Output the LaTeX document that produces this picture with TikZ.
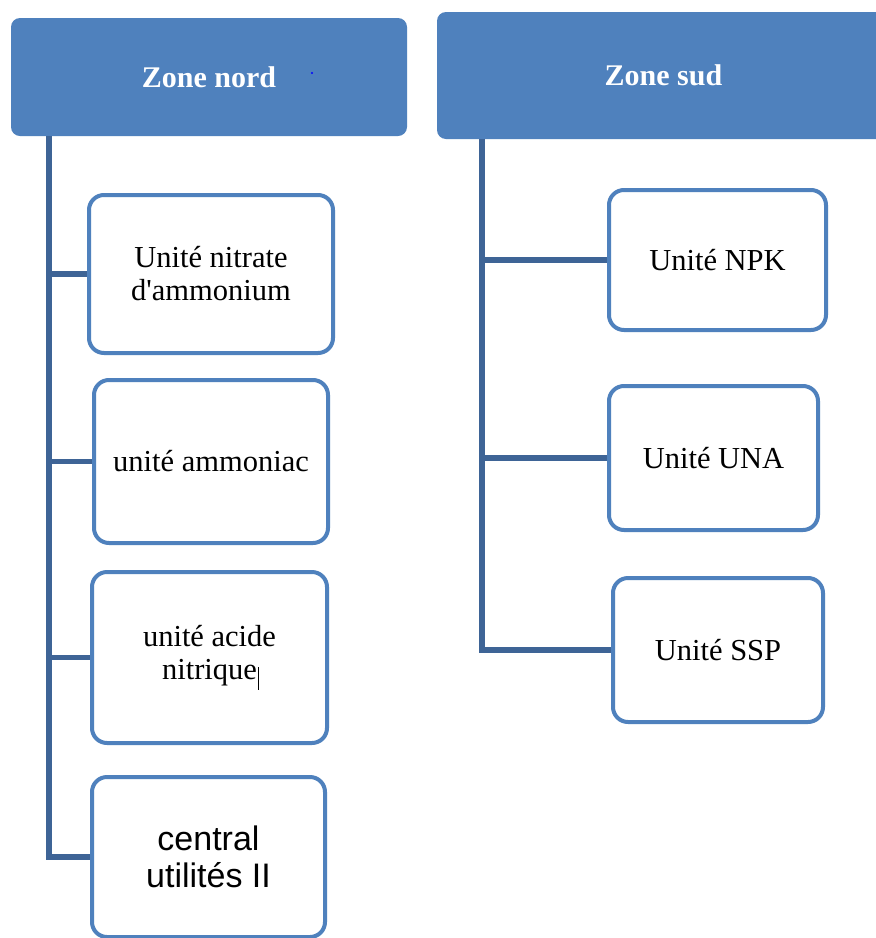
\documentclass[tikz,border=0pt]{standalone}
\usepackage{fontspec}
\setmainfont{Liberation Serif}
\newfontfamily\arialfont{Liberation Sans}
\definecolor{headblue}{RGB}{79,129,189}
\definecolor{boxblue}{RGB}{79,129,189}
\definecolor{linkblue}{RGB}{62,100,150}
\tikzset{
  zonehead/.style={rectangle, rounded corners=9pt, fill=headblue, draw=none,
    text=white, font=\fontsize{30}{34}\selectfont\bfseries, inner sep=0pt},
  unitbox/.style={rectangle, rounded corners=15pt, draw=boxblue, line width=4pt,
    fill=white, align=center, inner sep=0pt,
    font=\fontsize{30.5}{33}\selectfont},
  conn/.style={draw=linkblue, line width=5.5pt, line join=miter},
}
\begin{document}
\begin{tikzpicture}[x=1pt, y=-1pt]
  \useasboundingbox (0,0) rectangle (876,938);
  \fill[white] (0,0) rectangle (876,938);
  \clip (0,0) rectangle (876,938);

  % zone headers
  \node[zonehead, minimum width=396pt, minimum height=118pt] (hn) at (209,77) {Zone nord};
  \node[zonehead, minimum width=453pt, minimum height=127pt] (hs) at (663.5,75.5) {Zone sud};
  \fill[blue] (312,73) circle (1.2);

  % units of the northern zone
  \node[unitbox, minimum width=244pt, minimum height=158pt] (b1) at (211,274)
    {Unité nitrate\\d\textquotesingle ammonium};
  \node[unitbox, minimum width=234pt, minimum height=163pt] (b2) at (211,461.5)
    {unité ammoniac};
  \node[unitbox, minimum width=235pt, minimum height=171pt] (b3) at (209.5,657.5)
    {unité acide\\nitrique\rlap{\hspace{1.5pt}\rule[-10pt]{1pt}{23pt}}};
  \node[unitbox, minimum width=233pt, minimum height=160pt,
        font=\arialfont\fontsize{34}{37}\selectfont] (b4) at (208.5,857)
    {central\\utilités II};

  % units of the southern zone
  \node[unitbox, minimum width=217pt, minimum height=140pt] (r1) at (717.5,260)
    {Unité NPK};
  \node[unitbox, minimum width=209pt, minimum height=144pt] (r2) at (713.5,458)
    {Unité UNA};
  \node[unitbox, minimum width=210pt, minimum height=144pt] (r3) at (718,650)
    {Unité SSP};

  % trunk lines and branches
  \coordinate (ln) at (49,0);
  \coordinate (rn) at (482,0);
  \draw[conn] (ln |- hn.south) |- (b4.west);
  \draw[conn] (ln |- b1.west) -- (b1.west);
  \draw[conn] (ln |- b2.west) -- (b2.west);
  \draw[conn] (ln |- b3.west) -- (b3.west);
  \draw[conn] (rn |- hs.south) |- (r3.west);
  \draw[conn] (rn |- r1.west) -- (r1.west);
  \draw[conn] (rn |- r2.west) -- (r2.west);
\end{tikzpicture}
\end{document}
